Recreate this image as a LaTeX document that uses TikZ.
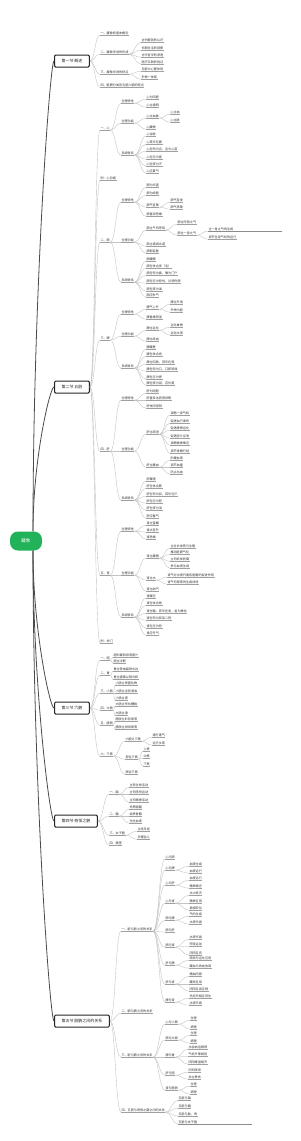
\documentclass[tikz,border=0pt]{standalone}
\usepackage{fontspec}
\setmainfont{Noto Sans CJK SC}
\usetikzlibrary{calc}
\definecolor{txt}{HTML}{333333}
\definecolor{ulc}{HTML}{A0A0A0}
\definecolor{cnc}{HTML}{C4C4C4}
\definecolor{trk}{HTML}{4A4A4A}
\definecolor{rootg}{HTML}{21B25A}
\definecolor{barc}{HTML}{8C8C8C}
\tikzset{
 lab/.style={anchor=west, inner xsep=0.3pt, inner ysep=0.45pt, text height=2.55pt, text depth=0.5pt, font=\fontsize{3.1}{3.3}\selectfont, text=txt},
 ul/.style={draw=ulc, line width=0.35pt},
 cn/.style={draw=cnc, line width=0.4pt},
 trunk/.style={draw=trk, line width=0.8pt},
 secbox/.style={anchor=west, draw=black!85, line width=1pt, fill=white, rounded corners=1.2pt, inner xsep=7pt, inner ysep=4pt, text height=3.4pt, text depth=0.6pt, font=\fontsize{4}{4.4}\selectfont, text=black!85},
 rootbox/.style={fill=rootg, text=white, rounded corners=8pt, minimum width=32pt, minimum height=19pt, inner sep=0pt, font=\fontsize{4.6}{5}\selectfont},
 bar/.style={draw=barc, line width=1pt}
}
\newcommand\Lf[5]{%
 \node[lab] (#2) at (#3,#4) {#5};
 \draw[ul] (#2.south west) -- (#2.south east);
 \draw[cn] let \p1=(#1), \p2=(#2.south west) in (\p1) .. controls (\x1/2+\x2/2,\y1) and (\x1/2+\x2/2,\y2) .. (\p2);}
\newcommand\Tk[2]{%
 \draw[trunk] let \p1=(#1), \p2=(#2) in (\p1) .. controls (\x1,\y1/2+\y2/2) and (\x2-4pt,\y2) .. (\p2);}
\begin{document}
\begin{tikzpicture}[x=1pt,y=-1pt]
\fill[white] (0,0) rectangle (300,1141);
\useasboundingbox (0,0) rectangle (300,1141);
% root and sections
\node[rootbox] (root) at (26,541) {藏象};
\node[secbox] (s1) at (54,61) {第一节 概述};
\node[secbox] (s2) at (54,387) {第二节 五脏};
\node[secbox] (s3) at (54,708) {第三节 六腑};
\node[secbox] (s4) at (54,821) {第四节 奇恒之腑};
\node[secbox] (s5) at (54,1021) {第五节 脏腑之间的关系};
\Tk{[xshift=7pt]root.north}{s1.west}
\Tk{[xshift=7pt]root.north}{s2.west}
\Tk{[xshift=7pt]root.south}{s3.west}
\Tk{[xshift=7pt]root.south}{s4.west}
\Tk{[xshift=7pt]root.south}{s5.west}
% ---------- section 1
\Lf{s1.east}{a1}{100}{33}{一、藏象的基本概念}
\Lf{s1.east}{a2}{100}{52}{二、藏象学说的形成}
 \Lf{a2.south east}{a21}{141}{40}{古代解剖的认识}
 \Lf{a2.south east}{a22}{141}{48}{长期生活的观察}
 \Lf{a2.south east}{a23}{141}{55}{古代哲学的渗透}
 \Lf{a2.south east}{a24}{141}{62}{医疗实践的验证}
\Lf{s1.east}{a3}{100}{72}{三、藏象学说的特点}
 \Lf{a3.south east}{a31}{141}{69}{五脏中心整体观}
 \Lf{a3.south east}{a32}{141}{77}{形神一体观}
\Lf{s1.east}{a4}{100}{85}{四、脏腑分类及五脏六腑的特点}
% ---------- section 2 : heart
\Lf{s2.east}{h}{100}{128}{一、心}
 \Lf{h.south east}{hA}{121}{101}{生理特性}
  \Lf{hA.south east}{hA1}{146}{97}{心为阳脏}
  \Lf{hA.south east}{hA2}{146}{105}{心主通明}
 \Lf{h.south east}{hB}{121}{121}{生理功能}
  \Lf{hB.south east}{hB1}{146}{116}{心主血脉}
   \Lf{hB1.south east}{hB11}{170}{112}{心主血}
   \Lf{hB1.south east}{hB12}{170}{120}{心主脉}
  \Lf{hB.south east}{hB2}{146}{127}{心藏神}
 \Lf{h.south east}{hC}{121}{153}{系统联系}
  \Lf{hC.south east}{hC1}{146}{134}{心合脉}
  \Lf{hC.south east}{hC2}{146}{142}{心其华在面}
  \Lf{hC.south east}{hC3}{146}{149}{心在窍为舌，舌为心苗}
  \Lf{hC.south east}{hC4}{146}{157}{心在志为喜}
  \Lf{hC.south east}{hC5}{146}{164}{心在液为汗}
  \Lf{hC.south east}{hC6}{146}{171}{心应夏气}
\Lf{s2.east}{xb}{100}{178}{附：心包络}
% lung
\Lf{s2.east}{f}{100}{240}{二、肺}
 \Lf{f.south east}{fA}{121}{200}{生理特性}
  \Lf{fA.south east}{fA1}{146}{185}{肺为华盖}
  \Lf{fA.south east}{fA2}{146}{193}{肺为娇脏}
  \Lf{fA.south east}{fA3}{146}{205}{肺气宣降}
   \Lf{fA3.south east}{fA31}{170}{200}{肺气宣发}
   \Lf{fA3.south east}{fA32}{170}{207}{肺气肃降}
  \Lf{fA.south east}{fA4}{146}{214}{肺喜润恶燥}
 \Lf{f.south east}{fB}{121}{240}{生理功能}
  \Lf{fB.south east}{fB1}{146}{228}{肺主气司呼吸}
   \Lf{fB1.south east}{fB11}{177}{222}{肺主呼吸之气}
   \Lf{fB1.south east}{fB12}{177}{233}{肺主一身之气}
    \Lf{fB12.south east}{fB121}{208}{229}{主一身之气的生成}
    \Lf{fB12.south east}{fB122}{208}{237}{调节全身气机的运行}
  \Lf{fB.south east}{fB2}{146}{244}{肺主通调水道}
  \Lf{fB.south east}{fB3}{146}{251}{肺朝百脉}
 \Lf{f.south east}{fC}{121}{280}{系统联系}
  \Lf{fC.south east}{fC1}{146}{259}{肺藏魄}
  \Lf{fC.south east}{fC2}{146}{266}{肺在体合皮（毛）}
  \Lf{fC.south east}{fC3}{146}{273}{肺在窍为鼻，喉为门户}
  \Lf{fC.south east}{fC4}{146}{281}{肺在志为悲忧，过悲伤肺}
  \Lf{fC.south east}{fC5}{146}{289}{肺在液为涕}
  \Lf{fC.south east}{fC6}{146}{295}{肺应秋气}
\draw[bar] (fB121.south west) -- (fB121.south west -| 282,0);
% spleen
\Lf{s2.east}{p}{100}{338}{三、脾}
 \Lf{p.south east}{pA}{121}{312}{生理特性}
  \Lf{pA.south east}{pA1}{146}{307}{脾气上升}
   \Lf{pA1.south east}{pA11}{170}{302}{脾主升清}
   \Lf{pA1.south east}{pA12}{170}{310}{升举内脏}
  \Lf{pA.south east}{pA2}{146}{317}{脾喜燥恶湿}
 \Lf{p.south east}{pB}{121}{334}{生理功能}
  \Lf{pB.south east}{pB1}{146}{328}{脾主运化}
   \Lf{pB1.south east}{pB11}{170}{325}{运化食物}
   \Lf{pB1.south east}{pB12}{170}{333}{运化水液}
  \Lf{pB.south east}{pB2}{146}{339}{脾主统血}
 \Lf{p.south east}{pC}{121}{366}{系统联系}
  \Lf{pC.south east}{pC1}{146}{347}{脾藏意}
  \Lf{pC.south east}{pC2}{146}{354}{脾在体合肉}
  \Lf{pC.south east}{pC3}{146}{362}{脾主四肢，其华在唇}
  \Lf{pC.south east}{pC4}{146}{369}{脾在窍为口，口和知味}
  \Lf{pC.south east}{pC5}{146}{377}{脾在志为思}
  \Lf{pC.south east}{pC6}{146}{383}{脾在液为涎，应长夏}
% liver
\Lf{s2.east}{g}{100}{449}{四、肝}
 \Lf{g.south east}{gA}{121}{398}{生理特性}
  \Lf{gA.south east}{gA1}{146}{391}{肝为刚脏}
  \Lf{gA.south east}{gA2}{146}{398}{肝喜条达而恶抑郁}
  \Lf{gA.south east}{gA3}{146}{406}{肝体阴用阳}
 \Lf{g.south east}{gB}{121}{449}{生理功能}
  \Lf{gB.south east}{gB1}{146}{432}{肝主疏泄}
   \Lf{gB1.south east}{gB11}{170}{413}{调畅一身气机}
   \Lf{gB1.south east}{gB12}{170}{421}{促进血行津布}
   \Lf{gB1.south east}{gB13}{170}{428}{促进脾胃运化}
   \Lf{gB1.south east}{gB14}{170}{436}{促进胆汁泌泄}
   \Lf{gB1.south east}{gB15}{170}{443}{调畅精神情志}
   \Lf{gB1.south east}{gB16}{170}{451}{调节排精行经}
  \Lf{gB.south east}{gB2}{146}{465}{肝主藏血}
   \Lf{gB2.south east}{gB21}{170}{458}{贮藏血液}
   \Lf{gB2.south east}{gB22}{170}{465}{调节血量}
   \Lf{gB2.south east}{gB23}{170}{472}{防止出血}
 \Lf{g.south east}{gC}{121}{498}{系统联系}
  \Lf{gC.south east}{gC1}{146}{479}{肝藏魂}
  \Lf{gC.south east}{gC2}{146}{486}{肝在体合筋}
  \Lf{gC.south east}{gC3}{146}{494}{肝在窍为目，其华在爪}
  \Lf{gC.south east}{gC4}{146}{501}{肝在志为怒}
  \Lf{gC.south east}{gC5}{146}{508}{肝在液为泪}
  \Lf{gC.south east}{gC6}{146}{516}{肝应春气}
% kidney
\Lf{s2.east}{k}{100}{573}{五、肾}
 \Lf{k.south east}{kA}{121}{529}{生理特性}
  \Lf{kA.south east}{kA1}{146}{523}{肾主蛰藏}
  \Lf{kA.south east}{kA2}{146}{530}{肾水宜升}
  \Lf{kA.south east}{kA3}{146}{537}{肾恶燥}
 \Lf{k.south east}{kB}{121}{573}{生理功能}
  \Lf{kB.south east}{kB1}{146}{556}{肾主藏精}
   \Lf{kB1.south east}{kB11}{170}{546}{主生长发育与生殖}
   \Lf{kB1.south east}{kB12}{170}{552}{推动脏腑气化}
   \Lf{kB1.south east}{kB13}{170}{559}{主司机体防御}
   \Lf{kB1.south east}{kB14}{170}{566}{参与血液生成}
  \Lf{kB.south east}{kB2}{146}{578}{肾主水}
   \Lf{kB2.south east}{kB21}{167}{575}{肾气对水液代谢各脏腑的促进作用}
   \Lf{kB2.south east}{kB22}{167}{582}{肾气司尿液的生成排泄}
  \Lf{kB.south east}{kB3}{146}{589}{肾主纳气}
 \Lf{k.south east}{kC}{121}{615}{系统联系}
  \Lf{kC.south east}{kC1}{146}{596}{肾藏志}
  \Lf{kC.south east}{kC2}{146}{603}{肾在体合骨}
  \Lf{kC.south east}{kC3}{146}{611}{肾生髓，其华在发，齿为骨余}
  \Lf{kC.south east}{kC4}{146}{618}{肾在窍为耳及二阴}
  \Lf{kC.south east}{kC5}{146}{626}{肾在志为恐}
  \Lf{kC.south east}{kC6}{146}{633}{肾应冬气}
\Lf{s2.east}{mm}{100}{641}{附：命门}
% ---------- section 3
\Lf{s3.east}{d}{100}{658}{一、胆}
 \Lf{d.south east}{d1}{113}{655}{胆贮藏和排泄胆汁}
 \Lf{d.south east}{d2}{113}{661}{胆主决断}
\Lf{s3.east}{w}{100}{673}{二、胃}
 \Lf{w.south east}{w1}{113}{669}{胃主受纳腐熟水谷}
 \Lf{w.south east}{w2}{113}{677}{胃主通降以降为和}
\Lf{s3.east}{xc}{100}{691}{三、小肠}
 \Lf{xc.south east}{xc1}{115}{683}{小肠主受盛化物}
 \Lf{xc.south east}{xc2}{115}{691}{小肠主泌别清浊}
 \Lf{xc.south east}{xc3}{115}{698}{小肠主液}
\Lf{s3.east}{yc}{100}{708}{四、大肠}
 \Lf{yc.south east}{yc1}{115}{704}{大肠主传化糟粕}
 \Lf{yc.south east}{yc2}{115}{713}{大肠主津}
\Lf{s3.east}{bg}{100}{723}{五、膀胱}
 \Lf{bg.south east}{bg1}{115}{719}{膀胱主贮存尿液}
 \Lf{bg.south east}{bg2}{115}{727}{膀胱主排泄尿液}
\Lf{s3.east}{sj}{100}{754}{六、三焦}
 \Lf{sj.south east}{sj1}{125}{739}{六腑之三焦}
  \Lf{sj1.south east}{sj11}{152}{735}{通行诸气}
  \Lf{sj1.south east}{sj12}{152}{743}{运行水液}
 \Lf{sj.south east}{sj2}{125}{757}{部位三焦}
  \Lf{sj2.south east}{sj21}{143}{749}{上焦}
  \Lf{sj2.south east}{sj22}{143}{756}{中焦}
  \Lf{sj2.south east}{sj23}{143}{764}{下焦}
 \Lf{sj.south east}{sj3}{125}{772}{辨证三焦}
% ---------- section 4
\Lf{s4.east}{nao}{109}{792}{一、脑}
 \Lf{nao.south east}{nao1}{129}{785}{主宰生命活动}
 \Lf{nao.south east}{nao2}{129}{792}{主司感觉运动}
 \Lf{nao.south east}{nao3}{129}{800}{主司精神活动}
\Lf{s4.east}{su}{109}{814}{二、髓}
 \Lf{su.south east}{su1}{129}{807}{充养脑髓}
 \Lf{su.south east}{su2}{129}{814}{滋养骨骼}
 \Lf{su.south east}{su3}{129}{821}{化生血液}
\Lf{s4.east}{nz}{109}{833}{三、女子胞}
 \Lf{nz.south east}{nz1}{137}{829}{主持月经}
 \Lf{nz.south east}{nz2}{137}{837}{孕育胎儿}
\Lf{s4.east}{js}{109}{843}{四、精室}
% ---------- section 5
\Lf{s5.east}{r1}{121}{929}{一、脏与脏之间的关系}
 \Lf{r1.south east}{ra}{165}{857}{心与肺}
 \Lf{r1.south east}{rb}{165}{868}{心与脾}
  \Lf{rb.south east}{rb1}{189}{864}{血液生成}
  \Lf{rb.south east}{rb2}{189}{871}{血液运行}
 \Lf{r1.south east}{rc}{165}{883}{心与肝}
  \Lf{rc.south east}{rc1}{189}{878}{血液运行}
  \Lf{rc.south east}{rc2}{189}{886}{精神情志}
 \Lf{r1.south east}{rd}{165}{901}{心与肾}
  \Lf{rd.south east}{rd1}{189}{893}{水火既济}
  \Lf{rd.south east}{rd2}{189}{901}{精神互用}
  \Lf{rd.south east}{rd3}{189}{908}{君相安位}
 \Lf{r1.south east}{re}{165}{918}{肺与脾}
  \Lf{re.south east}{re1}{189}{914}{气的生成}
  \Lf{re.south east}{re2}{189}{922}{水液代谢}
 \Lf{r1.south east}{rf}{165}{930}{肺与肝}
 \Lf{r1.south east}{rg}{165}{945}{肺与肾}
  \Lf{rg.south east}{rg1}{189}{937}{水液代谢}
  \Lf{rg.south east}{rg2}{189}{944}{呼吸运动}
  \Lf{rg.south east}{rg3}{189}{953}{阴阳互资}
 \Lf{r1.south east}{rh}{165}{963}{肝与脾}
  \Lf{rh.south east}{rh1}{189}{958}{疏泄与运化互用}
  \Lf{rh.south east}{rh2}{189}{966}{藏血与统血协调}
 \Lf{r1.south east}{ri}{165}{982}{肝与肾}
  \Lf{ri.south east}{ri1}{189}{974}{精血同源}
  \Lf{ri.south east}{ri2}{189}{982}{藏泄互用}
  \Lf{ri.south east}{ri3}{189}{989}{阴阳互滋互制}
 \Lf{r1.south east}{rj}{165}{1000}{脾与肾}
  \Lf{rj.south east}{rj1}{189}{996}{先后天相互资生}
  \Lf{rj.south east}{rj2}{189}{1003}{水液代谢}
\Lf{s5.east}{r2}{121}{1011}{二、腑与腑之间的关系}
\Lf{s5.east}{r3}{121}{1055}{三、脏与腑之间的关系}
 \Lf{r3.south east}{q1}{165}{1022}{心与小肠}
  \Lf{q1.south east}{q11}{190}{1018}{生理}
  \Lf{q1.south east}{q12}{190}{1027}{病理}
 \Lf{r3.south east}{q2}{165}{1038}{肺与大肠}
  \Lf{q2.south east}{q21}{190}{1033}{生理}
  \Lf{q2.south east}{q22}{190}{1041}{病理}
 \Lf{r3.south east}{q3}{165}{1055}{脾与胃}
  \Lf{q3.south east}{q31}{188}{1047}{水谷纳运相得}
  \Lf{q3.south east}{q32}{188}{1054}{气机升降相因}
  \Lf{q3.south east}{q33}{188}{1062}{阴阳燥湿相济}
 \Lf{r3.south east}{q4}{165}{1073}{肝与胆}
  \Lf{q4.south east}{q41}{188}{1070}{同司疏泄}
  \Lf{q4.south east}{q42}{188}{1077}{共主勇怯}
 \Lf{r3.south east}{q5}{165}{1088}{肾与膀胱}
  \Lf{q5.south east}{q51}{190}{1084}{生理}
  \Lf{q5.south east}{q52}{190}{1092}{病理}
\Lf{s5.east}{r4}{121}{1110}{四、五脏与奇恒之腑之间的关系}
 \Lf{r4.south east}{r41}{178}{1098}{五脏与脑}
 \Lf{r4.south east}{r42}{178}{1106}{五脏与髓}
 \Lf{r4.south east}{r43}{178}{1114}{五脏与脉、骨}
 \Lf{r4.south east}{r44}{178}{1122}{五脏与女子胞}
\draw[bar] (r44.south west) -- (r44.south west -| 252,0);
\end{tikzpicture}
\end{document}
